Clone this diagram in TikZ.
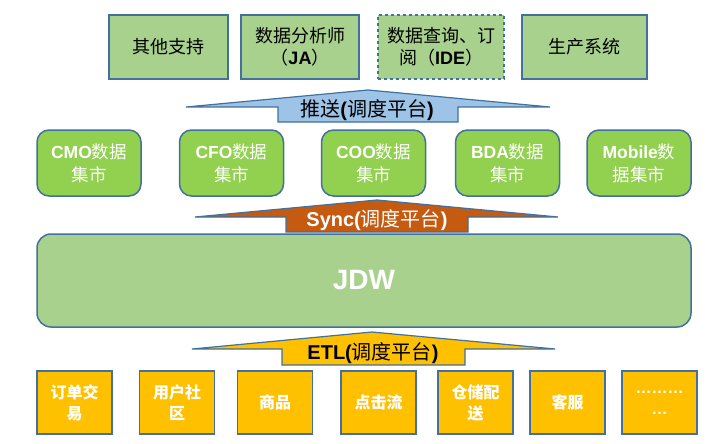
\documentclass[tikz,border=0pt]{standalone}
\usepackage{fontspec}
\setmainfont{Noto Sans CJK SC}
\newfontfamily\latf{Liberation Sans}
\newcommand{\la}[1]{{\latf\bfseries #1}}
\definecolor{bd}{HTML}{41719C}
\definecolor{tg}{HTML}{A9D18E}
\definecolor{mg}{HTML}{92D050}
\definecolor{gd}{HTML}{FFC000}
\definecolor{pb}{HTML}{9DC3E6}
\definecolor{so}{HTML}{C55A11}
\tikzset{
  topbox/.style={draw=bd, line width=1.5pt, fill=tg, minimum height=64pt, align=center, font=\fontsize{18}{22}\selectfont, text=black, inner sep=1pt},
  martbox/.style={draw=bd, line width=1.5pt, fill=mg, rounded corners=12pt, minimum width=104pt, minimum height=66pt, align=center, font=\fontsize{17.5}{23}\selectfont, text=white, inner sep=1pt},
  srcbox/.style={draw=bd, line width=1.5pt, fill=gd, minimum width=75pt, minimum height=63pt, align=center, font=\fontsize{16}{21}\selectfont\bfseries, text=white, inner sep=1pt},
  blockarrow/.style={draw=bd, line width=1.2pt, line join=miter},
  arrowlabel/.style={font=\fontsize{20}{24}\selectfont, inner sep=0pt},
}
\begin{document}
\begin{tikzpicture}[x=1pt,y=-1pt]
\useasboundingbox (0,0) rectangle (710,444);
% top row
\node[topbox, minimum width=119pt] (other) at (168.5,47) {其他支持};
\node[topbox, minimum width=118pt] (ja) at (300,47) {数据分析师\\（\la{JA}）};
\node[topbox, minimum width=126pt, dashed] (ide) at (441,47) {数据查询、订\\阅（\la{IDE}）};
\node[topbox, minimum width=125pt] (prod) at (584.5,47) {生产系统};
% push arrow
\draw[blockarrow, fill=pb] (186,107) -- (368,90) -- (550,107) -- (458,107) -- (458,122) -- (278,122) -- (278,107) -- cycle;
\node[arrowlabel, text=black] (push) at (367,110) {推送\la{(}调度平台\la{)}};
% marts
\node[martbox] (cmo) at (89,163) {\la{CMO}数据\\集市};
\node[martbox] (cfo) at (231.5,163) {\la{CFO}数据\\集市};
\node[martbox] (coo) at (373.5,163) {\la{COO}数据\\集市};
\node[martbox] (bda) at (507.5,163) {\la{BDA}数据\\集市};
\node[martbox] (mob) at (639,163) {\la{Mobile}数\\据集市};
% sync arrow
\draw[blockarrow, fill=so] (195,217) -- (377,200) -- (558,217) -- (468,217) -- (468,232) -- (286,232) -- (286,217) -- cycle;
\node[arrowlabel, text=white] (sync) at (377,220) {\la{Sync(}调度平台\la{)}};
% JDW
\node[draw=bd, line width=1.5pt, fill=tg, rounded corners=14pt, minimum width=654pt, minimum height=93pt, text=white, font=\fontsize{28}{32}\selectfont] (jdw) at (364,280.5) {\la{JDW}};
% ETL arrow
\draw[blockarrow, fill=gd] (192,349) -- (372,332) -- (555,349) -- (465,349) -- (465,365) -- (282,365) -- (282,349) -- cycle;
\node[arrowlabel, text=black] (etl) at (373,353) {\la{ETL(}调度平台\la{)}};
% sources
\node[srcbox] (order) at (74.5,402.5) {订单交\\易};
\node[srcbox] (user) at (177,402.5) {用户社\\区};
\node[srcbox] (goods) at (275,402.5) {商品};
\node[srcbox] (click) at (378.5,402.5) {点击流};
\node[srcbox] (wh) at (475.5,402.5) {仓储配\\送};
\node[srcbox] (cs) at (567.5,402.5) {客服};
\node[srcbox] (more) at (659.5,402.5) {\la{………}\\\la{…}};
\end{tikzpicture}
\end{document}
